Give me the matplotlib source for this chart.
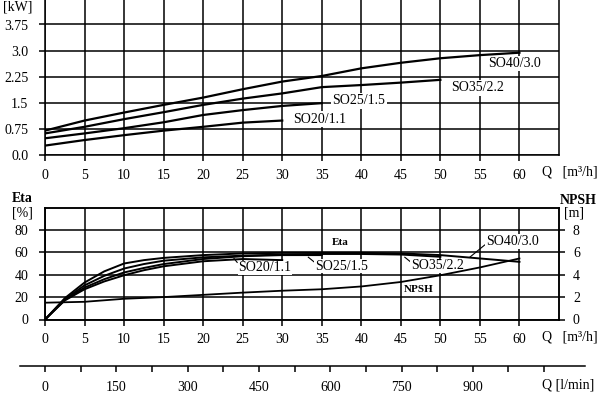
import matplotlib
matplotlib.use("Agg")
import matplotlib.pyplot as plt
import numpy as np

plt.rcParams['font.family'] = ['Liberation Serif', 'DejaVu Serif']

W, H = 605, 395

# --- power curves P [kW] vs Q [m3/h]
q_20 = [0, 5, 10, 15, 20, 25, 30]
p_20 = [0.27, 0.43, 0.57, 0.70, 0.81, 0.93, 0.99]
q_25 = [0, 5, 10, 15, 20, 25, 30, 35]
p_25 = [0.48, 0.62, 0.77, 0.94, 1.15, 1.29, 1.41, 1.49]
q_35 = [0, 5, 10, 15, 20, 25, 30, 35, 40, 45, 50]
p_35 = [0.62, 0.81, 1.03, 1.23, 1.44, 1.62, 1.77, 1.95, 2.01, 2.08, 2.16]
q_40 = [0, 5, 10, 15, 20, 25, 30, 35, 40, 45, 50, 55, 60]
p_40 = [0.70, 0.99, 1.22, 1.44, 1.65, 1.89, 2.11, 2.27, 2.49, 2.65, 2.78, 2.87, 2.94]

# --- efficiency curves Eta [%]
qe_20 = [0, 2.5, 5, 7.5, 10, 12.5, 15, 20, 25, 30]
eta_20 = [0, 17, 27, 34, 39.5, 44, 47.5, 52, 54, 53]
qe_25 = [0, 2.5, 5, 7.5, 10, 12.5, 15, 20, 25, 30, 35]
eta_25 = [0, 17.5, 28.5, 36, 42, 46, 49.5, 54, 56.5, 57.5, 57.5]
qe_35 = [0, 2.5, 5, 7.5, 10, 12.5, 15, 20, 25, 30, 35, 40, 45, 50]
eta_35 = [0, 18, 30.5, 39, 45.5, 49.5, 52.5, 55.5, 57, 58, 58.5, 58.5, 58, 56]
qe_40 = [0, 2.5, 5, 7.5, 10, 12.5, 15, 20, 25, 30, 35, 40, 45, 50, 55, 60]
eta_40 = [0, 19, 33, 43, 50, 53, 55, 57.5, 59, 59.5, 59.5, 59.5, 59, 57.5, 54.5, 51.5]

# --- NPSH [m]
q_npsh = [0, 5, 10, 15, 20, 25, 30, 35, 40, 45, 50, 55, 60]
npsh = [1.5, 1.58, 1.85, 2.0, 2.2, 2.4, 2.57, 2.7, 2.95, 3.35, 3.95, 4.65, 5.45]

q_ticks = list(range(0, 65, 5))
p_ticks = [0.0, 0.75, 1.5, 2.25, 3.0, 3.75]
p_labels = ['0.0', '0.75', '1.5', '2.25', '3.0', '3.75']
eta_ticks = [0, 20, 40, 60, 80]
npsh_ticks = [0, 2, 4, 6, 8]
lmin_ticks = list(range(0, 1051, 75))
lmin_labels = [str(v) if v % 150 == 0 and v <= 900 else '' for v in lmin_ticks]


def box(l, t, r, b):
    return [l / W, 1 - b / H, (r - l) / W, (b - t) / H]


def ftext(x, y, s, **kw):
    fig.text(x / W, 1 - y / H, s, **kw)


def style_axes(ax):
    ax.set_xlim(0, 65)
    ax.set_xticks(q_ticks)
    ax.grid(True, color='black', lw=1.1)
    ax.set_axisbelow(True)
    for sp in ax.spines.values():
        sp.set_linewidth(1.1)
    ax.tick_params(direction='out', length=4, width=1.1, labelsize=10, pad=6)


fig = plt.figure(figsize=(W / 100, H / 100), dpi=100)

# ---------------- top: power
ax1 = fig.add_axes(box(45, -1.6, 559, 155))
style_axes(ax1)
ax1.set_ylim(0, 4.5)
ax1.set_yticks(p_ticks)
ax1.set_yticklabels(p_labels)
ax1.tick_params(axis='y', pad=8)
lw = 1.6
ax1.plot(q_20, p_20, color='black', lw=lw)
ax1.plot(q_25, p_25, color='black', lw=lw)
ax1.plot(q_35, p_35, color='black', lw=lw)
ax1.plot(q_40, p_40, color='black', lw=lw)
bb = dict(fc='white', ec='none', pad=1)
ax1.text(59.4, 2.63, 'SO40/3.0', ha='center', va='center', fontsize=10, bbox=bb)
ax1.text(54.7, 1.93, 'SO35/2.2', ha='center', va='center', fontsize=10, bbox=bb)
ax1.text(39.7, 1.56, 'SO25/1.5', ha='center', va='center', fontsize=10, bbox=bb)
ax1.text(34.7, 1.03, 'SO20/1.1', ha='center', va='center', fontsize=10, bbox=bb)
ftext(18, 7, '[kW]', ha='center', va='center', fontsize=10)
ftext(542, 172, 'Q   [m³/h]', ha='left', va='center', fontsize=10)

# ---------------- bottom: efficiency + NPSH
ax2 = fig.add_axes(box(45, 207.5, 559, 319.5))
style_axes(ax2)
ax2.set_ylim(0, 100)
ax2.set_yticks(eta_ticks)
ax2.tick_params(axis='y', pad=8)
lw2 = 1.4
ax2.plot(qe_20, eta_20, color='black', lw=lw2)
ax2.plot(qe_25, eta_25, color='black', lw=lw2)
ax2.plot(qe_35, eta_35, color='black', lw=lw2)
ax2.plot(qe_40, eta_40, color='black', lw=lw2)

ax2r = ax2.twinx()
ax2r.set_ylim(0, 10)
ax2r.set_yticks(npsh_ticks)
ax2r.tick_params(direction='out', length=4, width=1.1, labelsize=10, pad=6)
for sp in ax2r.spines.values():
    sp.set_linewidth(1.1)
ax2r.plot(q_npsh, npsh, color='black', lw=1.3)

bb2 = dict(fc='white', ec='none', pad=0.5)
ax2.text(27.8, 46, 'SO20/1.1', ha='center', va='center', fontsize=10, bbox=bb2, zorder=5)
ax2.plot([24.3, 23.9], [51, 54.5], color='black', lw=0.8)
ax2.text(37.5, 47.7, 'SO25/1.5', ha='center', va='center', fontsize=10, bbox=bb2, zorder=5)
ax2.plot([34.0, 33.3], [51.6, 55.6], color='black', lw=0.8)
ax2.text(49.6, 47.8, 'SO35/2.2', ha='center', va='center', fontsize=10, bbox=bb2, zorder=5)
ax2.plot([46.2, 45.5], [51.6, 55.6], color='black', lw=0.8)
ax2.text(59.1, 69.5, 'SO40/3.0', ha='center', va='center', fontsize=10, bbox=bb2, zorder=5)
ax2.plot([55.6, 53.7], [66.5, 55.5], color='black', lw=0.8)
ax2.text(37.3, 68.6, 'Eta', ha='center', va='center', fontsize=8, fontweight='bold')
ax2.text(47.3, 27, 'NPSH', ha='center', va='center', fontsize=8, fontweight='bold')

ftext(22, 199, 'Eta', ha='center', va='center', fontsize=10, fontweight='bold')
ftext(22, 213, '[%]', ha='center', va='center', fontsize=10)
ftext(578, 200, 'NPSH', ha='center', va='center', fontsize=10, fontweight='bold')
ftext(564, 213, '[m]', ha='left', va='center', fontsize=10)
ftext(542, 337, 'Q   [m³/h]', ha='left', va='center', fontsize=10)

# ---------------- flow scale in l/min
ax3 = fig.add_axes(box(20, 360, 585, 366))
ax3.set_xlim(-52.6, 1136)
ax3.set_yticks([])
for k in ['top', 'left', 'right']:
    ax3.spines[k].set_visible(False)
ax3.spines['bottom'].set_linewidth(1.1)
ax3.patch.set_alpha(0)
ax3.set_xticks(lmin_ticks)
ax3.set_xticklabels(lmin_labels)
ax3.tick_params(direction='out', length=4, width=1.1, labelsize=10, pad=7)
ftext(542, 385, 'Q [l/min]', ha='left', va='center', fontsize=10)

fig.savefig('out.png', dpi=100)
